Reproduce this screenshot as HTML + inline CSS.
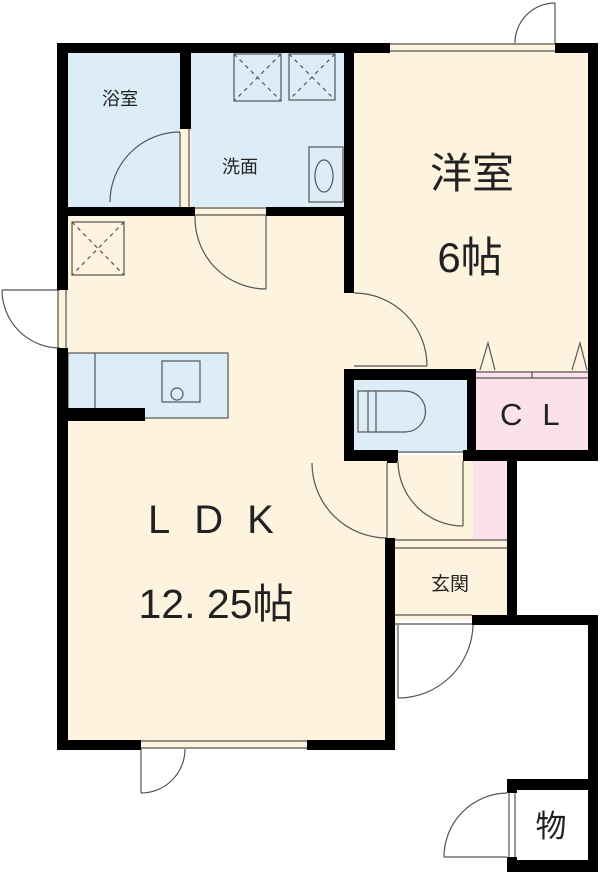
<!DOCTYPE html>
<html><head><meta charset="utf-8"><style>
html,body{margin:0;padding:0;background:#fff}
svg{display:block}
text{font-family:"Liberation Sans","Noto Sans CJK JP",sans-serif;fill:#222}
</style></head><body>
<svg width="600" height="872" viewBox="0 0 600 872" xmlns="http://www.w3.org/2000/svg">
<rect x="57" y="43" width="340" height="706" fill="#fdf3df"/>
<rect x="344" y="43" width="254" height="330" fill="#fdf3df"/>
<rect x="394" y="455" width="113" height="165" fill="#fdf3df"/>
<rect x="68" y="53" width="112" height="154" fill="#dcedf8"/>
<rect x="191" y="53" width="153" height="154" fill="#dcedf8"/>
<rect x="354" y="378" width="113" height="75" fill="#dcedf8"/>
<rect x="476" y="371" width="112" height="80" fill="#fbe1ea"/>
<rect x="473" y="461" width="34" height="79" fill="#fbe1ea"/>
<rect x="517" y="790" width="70" height="70" fill="#fff"/>

<g fill="none" stroke="#555" stroke-width="1.2">
<rect x="234" y="54" width="47" height="47"/><rect x="289" y="54" width="46" height="46"/>
<rect x="72" y="222" width="52" height="53"/>
<g stroke-dasharray="4 4">
<line x1="234" y1="54" x2="281" y2="101"/><line x1="281" y1="54" x2="234" y2="101"/>
<line x1="289" y1="54" x2="335" y2="100"/><line x1="335" y1="54" x2="289" y2="100"/>
<line x1="72" y1="222" x2="124" y2="275"/><line x1="124" y1="222" x2="72" y2="275"/>
</g>
<rect x="309" y="147" width="34" height="55"/><ellipse cx="324" cy="176" rx="9" ry="16"/>
<rect x="68" y="353" width="160" height="65" fill="#dcedf8"/>
<line x1="95" y1="353" x2="95" y2="408"/>
<rect x="162" y="361" width="38" height="41"/><circle cx="177" cy="394" r="6"/>
<rect x="358" y="391" width="10" height="41"/>
<path d="M368 391 H405 A20 20 0 0 1 405 432 H368"/>
<line x1="376" y1="391" x2="376" y2="432"/>
<path d="M110 202 A70 70 0 0 1 180 132"/><line x1="180" y1="132" x2="180" y2="207"/>
<line x1="189" y1="129" x2="189" y2="207"/>
<path d="M195 216 A71 71 0 0 0 266 289"/><line x1="266" y1="216" x2="266" y2="289"/>
<path d="M354 293 A73 73 0 0 1 427 366"/><line x1="354" y1="366" x2="427" y2="366"/>
<path d="M2 290 A58 58 0 0 0 60 348"/><line x1="2" y1="290" x2="60" y2="290"/>
<path d="M515 43 A40 40 0 0 1 555 3"/><line x1="555" y1="3" x2="555" y2="43"/>
<path d="M398 461 A65 65 0 0 0 463 526"/><line x1="463" y1="461" x2="463" y2="526"/>
<path d="M312 463 A75 75 0 0 0 387 538"/><line x1="387" y1="463" x2="387" y2="538"/>
<path d="M473 625 A75 75 0 0 1 398 698"/><line x1="398" y1="625" x2="398" y2="698"/>
<path d="M185 749 A44 44 0 0 1 141 793"/><line x1="141" y1="749" x2="141" y2="793"/>
<path d="M444 857 A64 64 0 0 1 507 793"/><line x1="444" y1="857" x2="507" y2="857"/>
<line x1="390" y1="44" x2="555" y2="44"/><line x1="390" y1="51" x2="555" y2="51"/>
<line x1="58" y1="290" x2="58" y2="348"/><line x1="66" y1="290" x2="66" y2="348"/>
<line x1="141" y1="741" x2="307" y2="741"/><line x1="141" y1="748" x2="307" y2="748"/>
<line x1="195" y1="208" x2="266" y2="208"/><line x1="195" y1="215" x2="266" y2="215"/>
<line x1="398" y1="452" x2="463" y2="452"/>
<line x1="394" y1="540" x2="507" y2="540"/><line x1="394" y1="548" x2="507" y2="548"/>
<line x1="395" y1="615" x2="472" y2="615"/><line x1="395" y1="624" x2="472" y2="624"/>
<line x1="509" y1="793" x2="509" y2="857"/><line x1="515" y1="793" x2="515" y2="857"/>
<line x1="476" y1="372" x2="588" y2="372"/><line x1="476" y1="378" x2="588" y2="378"/>
<line x1="532" y1="372" x2="532" y2="378"/>
<path d="M480 370 L488 343 L495 370"/><path d="M572 370 L580 343 L587 370"/>
</g>

<g fill="#000">
<rect x="57" y="43" width="333" height="10"/><rect x="555" y="43" width="43" height="10"/>
<rect x="57" y="43" width="11" height="247"/><rect x="57" y="348" width="11" height="401"/>
<rect x="588" y="43" width="10" height="418"/>
<rect x="180" y="53" width="11" height="76"/>
<rect x="57" y="207" width="138" height="9"/><rect x="266" y="207" width="82" height="9"/>
<rect x="344" y="43" width="10" height="250"/>
<rect x="344" y="369" width="132" height="11"/><rect x="344" y="369" width="10" height="92"/>
<rect x="467" y="369" width="9" height="92"/>
<rect x="344" y="450" width="54" height="11"/><rect x="463" y="450" width="135" height="11"/>
<rect x="387" y="450" width="10" height="13"/>
<rect x="68" y="408" width="77" height="13"/>
<rect x="507" y="450" width="10" height="175"/>
<rect x="472" y="615" width="126" height="10"/>
<rect x="588" y="615" width="10" height="170"/>
<rect x="385" y="538" width="10" height="211"/>
<rect x="57" y="740" width="84" height="10"/><rect x="307" y="740" width="88" height="10"/>
<rect x="507" y="779" width="91" height="11"/><rect x="588" y="779" width="10" height="93"/>
<rect x="507" y="860" width="91" height="12"/>
<rect x="507" y="779" width="10" height="14"/><rect x="507" y="857" width="10" height="15"/>
</g>

<text x="120" y="105" font-size="18" text-anchor="middle">浴室</text>
<text x="240" y="173" font-size="18" text-anchor="middle">洗面</text>
<text x="472" y="188" font-size="42" text-anchor="middle">洋室</text>
<text x="470" y="272" font-size="42" text-anchor="middle">6帖</text>
<text x="500" y="425" font-size="31" letter-spacing="20">CL</text>
<text x="148" y="533" font-size="40" letter-spacing="24">LDK</text>
<text x="216" y="618" font-size="41" text-anchor="middle">12. 25帖</text>
<text x="450" y="590" font-size="19" text-anchor="middle">玄関</text>
<text x="551" y="837" font-size="31" text-anchor="middle">物</text>
</svg>
</body></html>
